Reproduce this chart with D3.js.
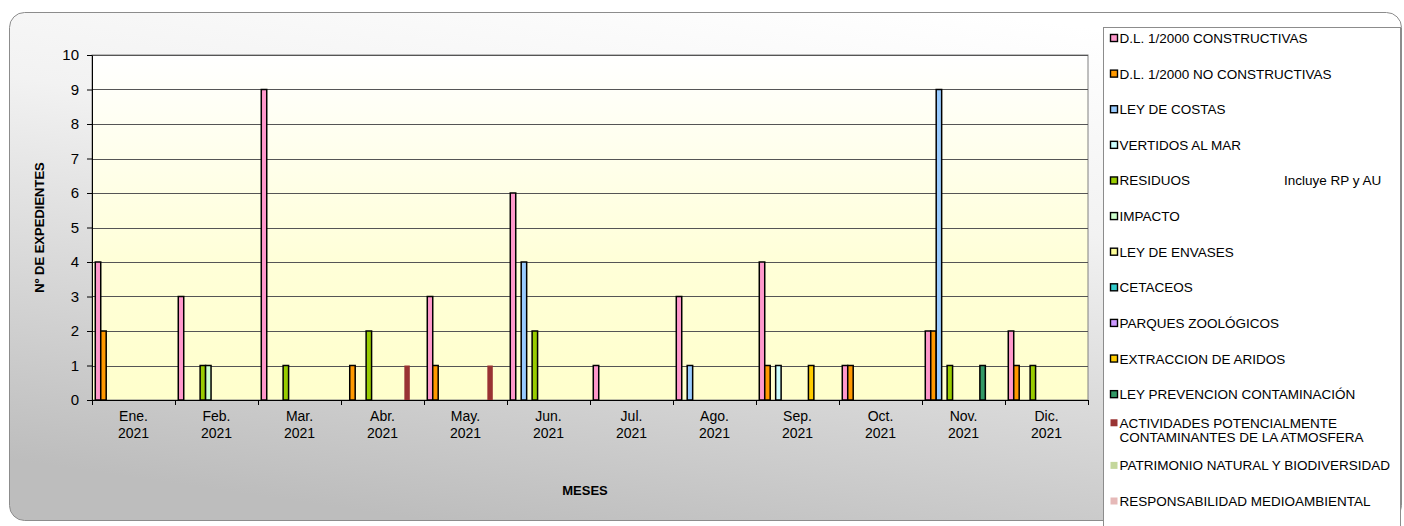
<!DOCTYPE html>
<html>
<head>
<meta charset="utf-8">
<script src="https://cdn.jsdelivr.net/npm/d3@7"></script>
<style>
  body { margin: 0; background: #fff; }
  svg text { font-family: "Liberation Sans", Arial, sans-serif; fill: #000; }
</style>
</head>
<body>
<div id="chart"></div>
<script>
const months = ['Ene.', 'Feb.', 'Mar.', 'Abr.', 'May.', 'Jun.', 'Jul.', 'Ago.', 'Sep.', 'Oct.', 'Nov.', 'Dic.'];
const year = '2021';
const yTicks = [0, 1, 2, 3, 4, 5, 6, 7, 8, 9, 10];

const seriesNames = [
  'D.L. 1/2000 CONSTRUCTIVAS',
  'D.L. 1/2000 NO CONSTRUCTIVAS',
  'LEY DE COSTAS',
  'VERTIDOS AL MAR',
  'RESIDUOS',
  'IMPACTO',
  'LEY DE ENVASES',
  'CETACEOS',
  'PARQUES ZOOLÓGICOS',
  'EXTRACCION DE ARIDOS',
  'LEY PREVENCION CONTAMINACIÓN',
  'ACTIVIDADES POTENCIALMENTE CONTAMINANTES DE LA ATMOSFERA',
  'PATRIMONIO NATURAL Y BIODIVERSIDAD',
  'RESPONSABILIDAD MEDIOAMBIENTAL'
];
const seriesColors = ['#ff99cc', '#ff9900', '#99ccff', '#ccffff', '#99cc00', '#ccffcc', '#ffff99',
  '#33cccc', '#cc99ff', '#ffcc00', '#339966', '#993333', '#c4d79b', '#e6b9b8'];
const seriesOutlined = [true, true, true, true, true, true, true, true, true, true, true, false, false, false];

const constructivas   = [4, 3, 9, 0, 3, 6, 1, 3, 4, 1, 2, 2];
const noConstructivas = [2, 0, 0, 1, 1, 0, 0, 0, 1, 1, 2, 1];
const costas          = [0, 0, 0, 0, 0, 4, 0, 1, 0, 0, 9, 0];
const vertidos        = [0, 0, 0, 0, 0, 0, 0, 0, 1, 0, 0, 0];
const residuos        = [0, 1, 1, 2, 0, 2, 0, 0, 0, 0, 1, 1];
const impacto         = [0, 1, 0, 0, 0, 0, 0, 0, 0, 0, 0, 0];
const envases         = [0, 0, 0, 0, 0, 0, 0, 0, 0, 0, 0, 0];
const cetaceos        = [0, 0, 0, 0, 0, 0, 0, 0, 0, 0, 0, 0];
const parques         = [0, 0, 0, 0, 0, 0, 0, 0, 0, 0, 0, 0];
const aridos          = [0, 0, 0, 0, 0, 0, 0, 0, 1, 0, 0, 0];
const prevencion      = [0, 0, 0, 0, 0, 0, 0, 0, 0, 0, 1, 0];
const atmosfera       = [0, 0, 0, 1, 1, 0, 0, 0, 0, 0, 0, 0];
const patrimonio      = [0, 0, 0, 0, 0, 0, 0, 0, 0, 0, 0, 0];
const responsabilidad = [0, 0, 0, 0, 0, 0, 0, 0, 0, 0, 0, 0];

const seriesValues = [constructivas, noConstructivas, costas, vertidos, residuos, impacto, envases,
  cetaceos, parques, aridos, prevencion, atmosfera, patrimonio, responsabilidad];

const W = 1404, H = 526;
const margin = {top: 55, left: 92, right: 316, bottom: 126};
const width = W - margin.left - margin.right,
      height = H - margin.top - margin.bottom;

const svg = d3.select('#chart').append('svg')
    .attr('width', W)
    .attr('height', H);

const defs = svg.append('defs');
const bgGrad = defs.append('linearGradient')
    .attr('id', 'bgGrad')
    .attr('x1', '0.7').attr('y1', '0').attr('x2', '0.3').attr('y2', '1');
bgGrad.append('stop').attr('offset', '0').attr('stop-color', '#ffffff');
bgGrad.append('stop').attr('offset', '0.35').attr('stop-color', '#f2f2f2');
bgGrad.append('stop').attr('offset', '1').attr('stop-color', '#bdbdbd');

const plotGrad = defs.append('linearGradient')
    .attr('id', 'plotGrad')
    .attr('x1', '0').attr('y1', '0').attr('x2', '0').attr('y2', '1');
plotGrad.append('stop').attr('offset', '0').attr('stop-color', '#ffffff');
plotGrad.append('stop').attr('offset', '0.6').attr('stop-color', '#ffffd8');
plotGrad.append('stop').attr('offset', '1').attr('stop-color', '#ffffcc');

// chart area
svg.append('rect')
    .attr('x', 9.5).attr('y', 12.5)
    .attr('width', 1392).attr('height', 508)
    .attr('rx', 15).attr('ry', 15)
    .attr('fill', 'url(#bgGrad)')
    .attr('stroke', '#8c8c8c')
    .attr('stroke-width', 1);

const g = svg.append('g')
    .attr('transform', 'translate(' + margin.left + ',' + margin.top + ')');

const x0 = d3.scaleBand().domain(months).range([0, width]).padding(0);
const x1 = d3.scaleBand().domain(d3.range(seriesNames.length))
    .range([0, x0.bandwidth()]).paddingInner(0).paddingOuter(0.6);
const y = d3.scaleLinear().domain([0, 10]).range([height, 0]);

g.append('rect')
    .attr('width', width).attr('height', height)
    .attr('fill', 'url(#plotGrad)')
    .attr('stroke', '#808080');

// gridlines
g.append('g').selectAll('line')
  .data(yTicks.filter(d => d > 0))
  .enter()
  .append('line')
    .attr('x1', 0).attr('x2', width)
    .attr('y1', d => Math.round(y(d)) + 0.5)
    .attr('y2', d => Math.round(y(d)) + 0.5)
    .attr('stroke', '#555')
    .attr('stroke-width', 1);

// bars
const bars = [];
seriesValues.forEach((vals, s) => {
  vals.forEach((v, m) => {
    if (v > 0) bars.push({s, m, v});
  });
});

g.selectAll('.bar')
  .data(bars)
  .enter()
  .append('rect')
    .attr('class', 'bar')
    .attr('x', d => x0(months[d.m]) + x1(d.s))
    .attr('y', d => y(d.v))
    .attr('width', x1.bandwidth())
    .attr('height', d => height - y(d.v))
    .attr('fill', d => seriesColors[d.s])
    .attr('stroke', d => seriesOutlined[d.s] ? '#000' : 'none')
    .attr('stroke-width', 1.5);

// y axis
const yAxis = g.append('g')
    .call(d3.axisLeft(y).tickValues(yTicks).tickSize(5).tickSizeOuter(0).tickFormat(d3.format('d')));
yAxis.select('.domain').attr('stroke', '#000');
yAxis.selectAll('.tick line').attr('stroke', '#000');
yAxis.selectAll('text').attr('font-size', 15).attr('x', -13)
    .style('font-family', '"Liberation Sans", Arial, sans-serif');

// x axis
const xAxis = g.append('g')
    .attr('transform', 'translate(0,' + height + ')')
    .call(d3.axisBottom(x0).tickSize(0).tickSizeOuter(0).tickFormat(''));
xAxis.select('.domain').attr('stroke', '#000');
xAxis.selectAll('.tick').remove();

g.append('g').selectAll('line')
  .data(d3.range(months.length + 1))
  .enter()
  .append('line')
    .attr('x1', d => Math.round(d * x0.step()) + 0.5)
    .attr('x2', d => Math.round(d * x0.step()) + 0.5)
    .attr('y1', height).attr('y2', height + 5)
    .attr('stroke', '#000');

const xl = g.append('g').selectAll('text')
  .data(months)
  .enter()
  .append('text')
    .attr('x', d => x0(d) + x0.bandwidth() / 2)
    .attr('y', height + 21)
    .attr('text-anchor', 'middle')
    .attr('font-size', 14);
xl.append('tspan').attr('x', d => x0(d) + x0.bandwidth() / 2).text(d => d);
xl.append('tspan').attr('x', d => x0(d) + x0.bandwidth() / 2).attr('dy', 17).text(year);

// axis titles
svg.append('text')
    .attr('transform', 'translate(44,' + (margin.top + height / 2) + ') rotate(-90)')
    .attr('text-anchor', 'middle')
    .attr('font-size', 13)
    .attr('font-weight', 'bold')
    .text('Nº DE EXPEDIENTES');

svg.append('text')
    .attr('x', 585)
    .attr('y', 495)
    .attr('text-anchor', 'middle')
    .attr('font-size', 13)
    .attr('font-weight', 'bold')
    .text('MESES');

// legend
const legend = svg.append('g');
legend.append('rect')
    .attr('x', 1103.5).attr('y', 27.5)
    .attr('width', 297).attr('height', 504)
    .attr('fill', '#fff')
    .attr('stroke', '#8c8c8c');

const legendY = d3.scalePoint().domain(d3.range(seriesNames.length)).range([38, 501]);

const items = legend.selectAll('.item')
  .data(seriesNames)
  .enter()
  .append('g')
    .attr('class', 'item')
    .attr('transform', (d, i) => 'translate(1110,' + (i === 11 ? legendY(i) - 7 : legendY(i)) + ')');

items.append('rect')
    .attr('x', 0.5).attr('y', -3.5)
    .attr('width', 7).attr('height', 7)
    .attr('fill', (d, i) => seriesColors[i])
    .attr('stroke', (d, i) => seriesOutlined[i] ? '#000' : 'none')
    .attr('stroke-width', 1.4);

items.each(function(d, i) {
  const t = d3.select(this).append('text')
      .attr('x', 9.5)
      .attr('y', 5)
      .attr('font-size', 13.5);
  if (i === 11) {
    t.append('tspan').attr('x', 9.5).text('ACTIVIDADES POTENCIALMENTE');
    t.append('tspan').attr('x', 9.5).attr('dy', 14).text('CONTAMINANTES DE LA ATMOSFERA');
  } else {
    t.text(d);
  }
});

legend.append('text')
    .attr('x', 1284)
    .attr('y', legendY(4) + 5)
    .attr('font-size', 13.5)
    .text('Incluye RP y AU');
</script>
</body>
</html>
